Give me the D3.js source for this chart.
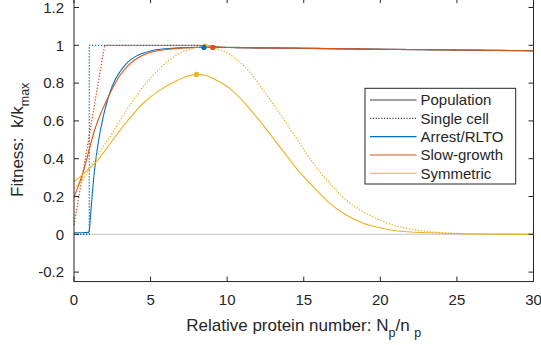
<!DOCTYPE html>
<html>
<head>
<meta charset="utf-8">
<script src="https://cdn.jsdelivr.net/npm/d3@7"></script>
<style>
html,body{margin:0;padding:0;background:#fff;}
svg{display:block;}
text{font-family:"Liberation Sans",Arial,Helvetica,sans-serif;fill:#262626;}
</style>
</head>
<body>
<svg id="chart" width="541" height="345"></svg>
<script>
// ---------- data ----------
const xTicks = [0, 5, 10, 15, 20, 25, 30];
const yTicks = [-0.2, 0, 0.2, 0.4, 0.6, 0.8, 1, 1.2];
const yTickLabels = ["-0.2", "0", "0.2", "0.4", "0.6", "0.8", "1", "1.2"];

const legendLabels = ["Population", "Single cell", "Arrest/RLTO", "Slow-growth", "Symmetric"];

// Arrest/RLTO, population (solid)
const arrestPop = [[0,0.008],[0.5,0.008],[0.95,0.01],[1.0,0.02],[1.05,0.07],[1.1,0.12],[1.2,0.22],[1.3,0.31],[1.5,0.44],[1.7,0.54],[2.0,0.655],[2.5,0.785],[3.0,0.86],[3.5,0.91],[4.0,0.94],[4.5,0.958],[5,0.97],[6,0.982],[7,0.987],[8,0.989],[8.5,0.989],[10,0.988],[15,0.984],[20,0.979],[25,0.975],[30,0.971]];
// Arrest/RLTO, single cell (dotted)
const arrestCell = [[0,0],[1,0],[1,1],[8,1],[9,0.995],[10,0.989],[15,0.984],[20,0.979],[25,0.975],[30,0.971]];
// Slow-growth, population
const slowPop = [[0,0.196],[0.3,0.26],[0.6,0.33],[1,0.45],[1.3,0.54],[1.7,0.63],[2,0.685],[2.5,0.77],[3,0.84],[3.5,0.89],[4,0.925],[4.5,0.948],[5,0.963],[6,0.978],[7,0.985],[8,0.988],[9,0.989],[10,0.988],[15,0.984],[20,0.979],[25,0.975],[30,0.971]];
// Slow-growth, single cell
const slowCell = [[0,0.05],[2,1],[8,1],[9,0.995],[10,0.989],[15,0.984],[20,0.979],[25,0.975],[30,0.971]];
// Symmetric, population
const symPop = [[0,0.278],[0.5,0.31],[1,0.35],[1.37,0.376],[2,0.44],[2.5,0.495],[3,0.55],[3.5,0.6],[4.5,0.692],[5.6,0.763],[6.7,0.813],[7.4,0.836],[8,0.846],[8.6,0.84],[9.3,0.815],[10.17,0.772],[11.26,0.684],[12.35,0.578],[13.43,0.464],[14.52,0.349],[15.61,0.252],[16.7,0.164],[17.78,0.102],[18.87,0.058],[19.96,0.035],[21,0.019],[23.2,0.008],[25.4,0.003],[28,0.001],[30,0.0005]];
// Symmetric, single cell
const symCell = [[0,0.243],[0.72,0.305],[1.26,0.384],[2.35,0.516],[3.44,0.658],[4.52,0.781],[5.61,0.878],[6.7,0.949],[7.78,0.984],[8.5,0.996],[9.2,0.985],[9.74,0.97],[10.17,0.952],[10.6,0.925],[11.26,0.878],[12.35,0.763],[13.43,0.64],[14.52,0.508],[15.61,0.376],[16.7,0.27],[17.78,0.181],[18.87,0.12],[19.96,0.076],[21.05,0.044],[22.1,0.026],[23.2,0.014],[25.4,0.004],[28,0.001],[30,0.0003]];
// optimum markers
const peakX = [8.55, 8.48, 9.05, 8.0];
const peakY = [0.996, 0.989, 0.989, 0.846];

// ---------- layout ----------
const C = {blue:"#0072BD", orange:"#D95319", yellow:"#EDB120", axis:"#262626", zero:"#c4c4c4", legendGray:"#404040"};
const M = {left:74, right:533.5, top:-1.95, bottom:281.55};
const svg = d3.select("#chart");
const x = d3.scaleLinear().domain([0,30]).range([M.left, M.right]);
const y = d3.scaleLinear().domain([-0.25,1.25]).range([M.bottom, M.top]);

const plot = svg.append("g");

// zero reference line
plot.append("line")
  .attr("x1", x(0)).attr("x2", x(30)).attr("y1", y(0)).attr("y2", y(0))
  .attr("stroke", C.zero).attr("stroke-width", 1);

const smooth = d3.line().x(d => x(d[0])).y(d => y(d[1])).curve(d3.curveMonotoneX);
const straight = d3.line().x(d => x(d[0])).y(d => y(d[1]));

const series = [
  {d: arrestCell, c: C.blue, dotted: true, gen: straight},
  {d: arrestPop, c: C.blue, dotted: false, gen: smooth},
  {d: slowCell, c: C.orange, dotted: true, gen: straight},
  {d: slowPop, c: C.orange, dotted: false, gen: smooth},
  {d: symCell, c: C.yellow, dotted: true, gen: smooth},
  {d: symPop, c: C.yellow, dotted: false, gen: smooth}
];
series.forEach(s => {
  plot.append("path")
    .attr("d", s.gen(s.d))
    .attr("fill", "none")
    .attr("stroke", s.c)
    .attr("stroke-width", s.dotted ? 1.3 : 1.1)
    .attr("stroke-dasharray", s.dotted ? "1.3,1.7" : null)
    .attr("stroke-linejoin", "round");
});

const peakColors = [C.yellow, C.blue, C.orange, C.yellow];
plot.selectAll("circle.peak").data(peakX).enter().append("circle")
  .attr("class", "peak")
  .attr("cx", (d) => x(d))
  .attr("cy", (d, i) => y(peakY[i]))
  .attr("r", 2.6)
  .attr("fill", (d, i) => peakColors[i]);

// ---------- axes ----------
const ax = svg.append("g");
const tickLen = 5;
ax.append("rect")
  .attr("x", M.left).attr("y", M.top)
  .attr("width", M.right - M.left).attr("height", M.bottom - M.top)
  .attr("fill", "none").attr("stroke", C.axis).attr("stroke-width", 1);

xTicks.forEach(t => {
  ax.append("line").attr("x1", x(t)).attr("x2", x(t)).attr("y1", M.bottom).attr("y2", M.bottom - tickLen).attr("stroke", C.axis);
  ax.append("line").attr("x1", x(t)).attr("x2", x(t)).attr("y1", M.top).attr("y2", M.top + tickLen).attr("stroke", C.axis);
  ax.append("text").attr("x", x(t)).attr("y", 305).attr("text-anchor", "middle")
    .style("font-size", "15px").text(String(t));
});
yTicks.forEach((t, i) => {
  ax.append("line").attr("x1", M.left).attr("x2", M.left + tickLen).attr("y1", y(t)).attr("y2", y(t)).attr("stroke", C.axis);
  ax.append("line").attr("x1", M.right).attr("x2", M.right - tickLen).attr("y1", y(t)).attr("y2", y(t)).attr("stroke", C.axis);
  ax.append("text").attr("x", 64).attr("y", y(t) + 5.3).attr("text-anchor", "end")
    .style("font-size", "15px").text(yTickLabels[i]);
});

// axis labels
const xl = svg.append("text").attr("x", (M.left + M.right) / 2).attr("y", 330.7)
  .attr("text-anchor", "middle").style("font-size", "17px");
xl.append("tspan").text("Relative protein number: N");
xl.append("tspan").attr("dy", 6).style("font-size", "12.5px").text("p");
xl.append("tspan").attr("dy", -6).text("/n\u00a0");
xl.append("tspan").attr("dy", 6).style("font-size", "12.5px").text("p");

const yl = svg.append("text").attr("transform", "translate(22.5," + ((M.top + M.bottom) / 2) + ") rotate(-90)")
  .attr("text-anchor", "middle").style("font-size", "17px");
yl.append("tspan").text("Fitness:\u00a0\u00a0k/k");
yl.append("tspan").attr("dy", 6).style("font-size", "12.5px").text("max");

// ---------- legend ----------
const lg = svg.append("g");
lg.append("rect").attr("x", 365).attr("y", 88.3).attr("width", 150.7).attr("height", 95.7)
  .attr("fill", "#fff").attr("stroke", C.axis).attr("stroke-width", 1);
const legColors = [C.legendGray, C.legendGray, C.blue, C.orange, C.yellow];
const legDotted = [false, true, false, false, false];
legendLabels.forEach((lab, i) => {
  const cy = 100 + i * 18.33;
  lg.append("line").attr("x1", 370).attr("x2", 416.5).attr("y1", cy).attr("y2", cy)
    .attr("stroke", legColors[i]).attr("stroke-width", legDotted[i] ? 1.2 : 1.1)
    .attr("stroke-dasharray", legDotted[i] ? "1.2,1.6" : null);
  lg.append("text").attr("x", 420.5).attr("y", cy + 5.3).style("font-size", "15px").text(lab);
});
</script>
</body>
</html>
